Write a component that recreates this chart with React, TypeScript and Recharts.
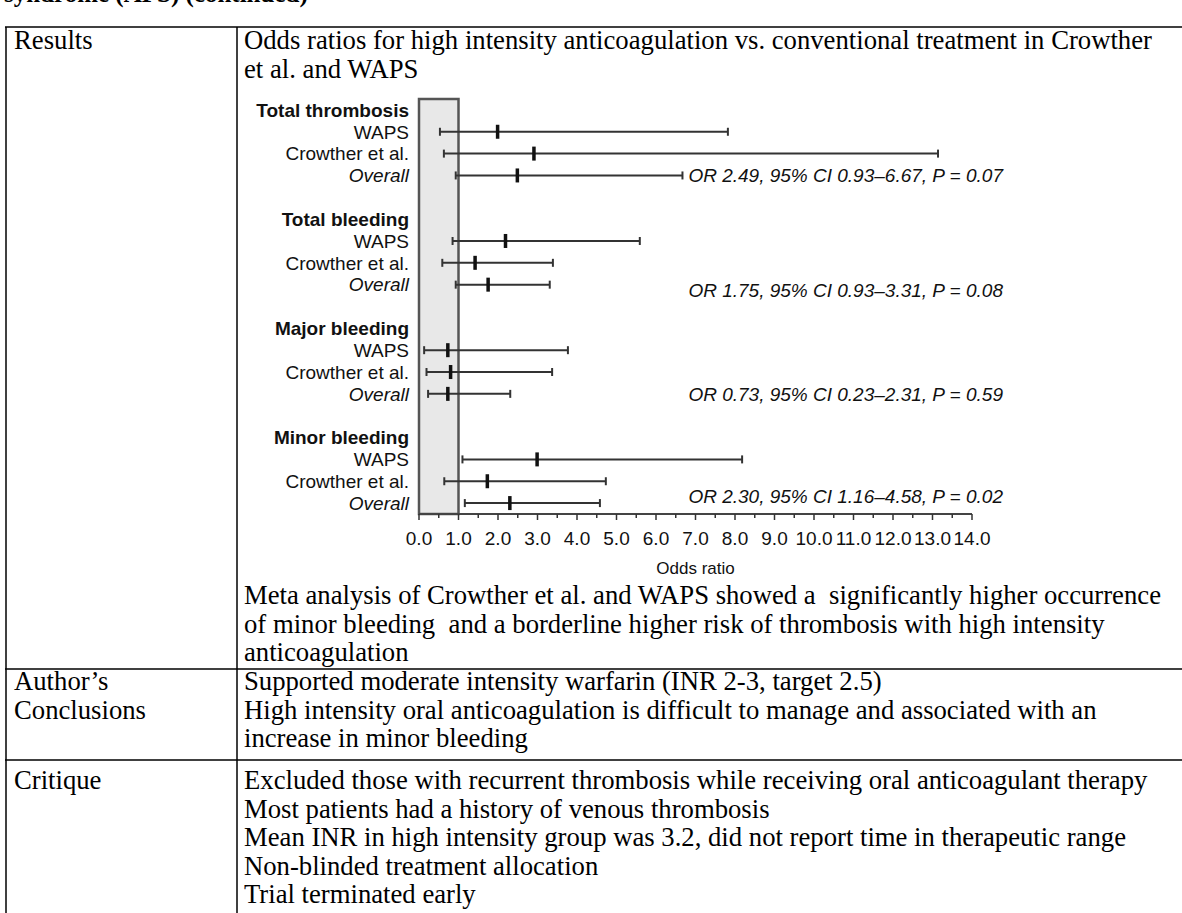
import React from 'react';
import { ScatterChart, Scatter, XAxis, YAxis, ErrorBar, ReferenceArea } from 'recharts';

// ---------- forest plot data ----------
const groupNames = ['Total thrombosis', 'Total bleeding', 'Major bleeding', 'Minor bleeding'];
const studyNames = ['WAPS', 'Crowther et al.', 'Overall'];

// [WAPS, Crowther et al., Overall]
const thrombosisOR = [1.99, 2.91, 2.49];
const thrombosisLow = [0.53, 0.63, 0.93];
const thrombosisHigh = [7.82, 13.14, 6.67];

const totalBleedingOR = [2.19, 1.42, 1.75];
const totalBleedingLow = [0.85, 0.59, 0.93];
const totalBleedingHigh = [5.59, 3.39, 3.31];

const majorBleedingOR = [0.73, 0.8, 0.73];
const majorBleedingLow = [0.13, 0.19, 0.23];
const majorBleedingHigh = [3.77, 3.37, 2.31];

const minorBleedingOR = [2.99, 1.73, 2.3];
const minorBleedingLow = [1.1, 0.64, 1.16];
const minorBleedingHigh = [8.18, 4.73, 4.58];

const overallAnnotations = [
  'OR 2.49, 95% CI 0.93–6.67, P = 0.07',
  'OR 1.75, 95% CI 0.93–3.31, P = 0.08',
  'OR 0.73, 95% CI 0.23–2.31, P = 0.59',
  'OR 2.30, 95% CI 1.16–4.58, P = 0.02',
];
const annotationRows = [3, 8.23, 13, 17.68];

const xTickValues = [
  0, 0.5, 1, 1.5, 2, 2.5, 3, 3.5, 4, 4.5, 5, 5.5, 6, 6.5, 7, 7.5, 8, 8.5, 9, 9.5, 10,
  10.5, 11, 11.5, 12, 12.5, 13, 13.5, 14,
];
const xAxisTitle = 'Odds ratio';

// ---------- table text ----------
const headingText = 'syndrome (APS) (continued)';
const resultsIntro = [
  'Odds ratios for high intensity anticoagulation vs. conventional treatment in Crowther',
  'et al. and WAPS',
];
const resultsSummary = [
  'Meta analysis of Crowther et al. and WAPS showed a  significantly higher occurrence',
  'of minor bleeding  and a borderline higher risk of thrombosis with high intensity',
  'anticoagulation',
];
const conclusionLabel = ['Author’s', 'Conclusions'];
const conclusionLines = [
  'Supported moderate intensity warfarin (INR 2-3, target 2.5)',
  'High intensity oral anticoagulation is difficult to manage and associated with an',
  'increase in minor bleeding',
];
const critiqueLines = [
  'Excluded those with recurrent thrombosis while receiving oral anticoagulant therapy',
  'Most patients had a history of venous thrombosis',
  'Mean INR in high intensity group was 3.2, did not report time in therapeutic range',
  'Non-blinded treatment allocation',
  'Trial terminated early',
];

// ---------- derived structures ----------
const groupOR = [thrombosisOR, totalBleedingOR, majorBleedingOR, minorBleedingOR];
const groupLow = [thrombosisLow, totalBleedingLow, majorBleedingLow, minorBleedingLow];
const groupHigh = [thrombosisHigh, totalBleedingHigh, majorBleedingHigh, minorBleedingHigh];

type RowInfo = { label: string; kind: 'header' | 'study' | 'overall' | 'blank' };
const rows: RowInfo[] = [];
const points: { x: number; y: number; err: [number, number] }[] = [];
groupNames.forEach((g, gi) => {
  rows.push({ label: g, kind: 'header' });
  studyNames.forEach((s, si) => {
    const y = rows.length;
    rows.push({ label: s, kind: s === 'Overall' ? 'overall' : 'study' });
    const or = groupOR[gi][si];
    points.push({ x: or, y, err: [or - groupLow[gi][si], groupHigh[gi][si] - or] });
  });
  if (gi < groupNames.length - 1) rows.push({ label: '', kind: 'blank' });
});
const rowTicks = rows.map((_, i) => i);
const annotationPoints = overallAnnotations.map((text, i) => ({ x: 6.82, y: annotationRows[i], text }));

const SANS = "'Liberation Sans', Arial, Helvetica, sans-serif";
const SERIF = "'Liberation Serif', 'Times New Roman', serif";

const YTick = (props: any) => {
  const { x, y, payload } = props;
  const r = rows[payload.value];
  if (!r || !r.label) return null;
  return (
    <text
      x={x - 10}
      y={y}
      dy="0.36em"
      textAnchor="end"
      fontFamily={SANS}
      fontSize={19}
      fontWeight={r.kind === 'header' ? 'bold' : 'normal'}
      fontStyle={r.kind === 'overall' ? 'italic' : 'normal'}
      fill="#111"
    >
      {r.label}
    </text>
  );
};

const XTick = (props: any) => {
  const { x, y, payload } = props;
  const v = payload.value as number;
  const major = Number.isInteger(v);
  return (
    <g>
      <line x1={x} x2={x} y1={y} y2={y + (major ? 6 : 4)} stroke="#333" strokeWidth={1.5} />
      {major && (
        <text x={x} y={y + 31} textAnchor="middle" fontFamily={SANS} fontSize={19} fill="#111">
          {v.toFixed(1)}
        </text>
      )}
    </g>
  );
};

const Marker = (props: any) => {
  const { cx, cy } = props;
  return <rect x={cx - 1.75} y={cy - 7} width={3.5} height={14} fill="#111" />;
};

const Annotation = (props: any) => {
  const { cx, cy, payload } = props;
  return (
    <text x={cx} y={cy} dy="0.36em" fontFamily={SANS} fontSize={19} fontStyle="italic" fill="#111">
      {payload.text}
    </text>
  );
};

const ForestPlot = () => (
  <ScatterChart width={860} height={500} margin={{ top: 9, right: 128, bottom: 10, left: 0 }} style={{ overflow: 'visible' }}>
    <XAxis
      type="number"
      dataKey="x"
      domain={[0, 14]}
      ticks={xTickValues}
      interval={0}
      tickSize={0}
      tickMargin={0}
      tick={<XTick />}
      axisLine={{ stroke: '#444', strokeWidth: 2 }}
      height={66}
      label={{ value: xAxisTitle, position: 'insideBottom', offset: 6, fontSize: 17, fontFamily: SANS, fill: '#111' }}
    />
    <YAxis
      type="number"
      dataKey="y"
      domain={[-0.5, 18.5]}
      reversed
      ticks={rowTicks}
      interval={0}
      tickSize={0}
      tickMargin={0}
      tick={<YTick />}
      axisLine={false}
      tickLine={false}
      width={179}
    />
    <ReferenceArea x1={0} x2={1} y1={-0.5} y2={18.5} fill="#e8e8e8" fillOpacity={1} stroke="#555" strokeWidth={2.5} ifOverflow="visible" />
    <Scatter data={points} isAnimationActive={false} shape={<Marker />}>
      <ErrorBar dataKey="err" direction="x" width={4} stroke="#333" strokeWidth={2} />
    </Scatter>
    <Scatter data={annotationPoints} isAnimationActive={false} shape={<Annotation />} />
  </ScatterChart>
);

export default function App() {
  const lineH = 28.5;
  const colTextX = 244;
  const labelX = 14;
  const textStyle: React.CSSProperties = { whiteSpace: 'pre' };
  const serifProps = { fontFamily: SERIF, fontSize: 26.7, fill: '#000', style: textStyle };
  const b = (center: number) => center + 9;
  const row1Top = 27;
  const div1 = 669;
  const div2 = 760;
  return (
    <div style={{ position: 'absolute', left: 0, top: 0, width: 1182, height: 913, overflow: 'hidden', background: '#fff' }}>
      <svg width={1182} height={913} style={{ position: 'absolute', left: 0, top: 0 }}>
        <text x={4} y={2} {...serifProps} fontSize={25} fontWeight="bold">{headingText}</text>
        <line x1={5} x2={1182} y1={row1Top} y2={row1Top} stroke="#000" strokeWidth={1.5} />
        <line x1={5} x2={1182} y1={div1} y2={div1} stroke="#000" strokeWidth={1.5} />
        <line x1={5} x2={1182} y1={div2} y2={div2} stroke="#000" strokeWidth={1.5} />
        <line x1={6} x2={6} y1={row1Top} y2={913} stroke="#000" strokeWidth={1.5} />
        <line x1={237} x2={237} y1={row1Top} y2={913} stroke="#000" strokeWidth={1.5} />

        <text x={labelX} y={b(40)} {...serifProps}>Results</text>
        {resultsIntro.map((t, i) => (
          <text key={'ri' + i} x={colTextX} y={b(40 + i * lineH)} {...serifProps}>{t}</text>
        ))}
        {resultsSummary.map((t, i) => (
          <text key={'rs' + i} x={colTextX} y={b(595 + i * lineH)} {...serifProps}>{t}</text>
        ))}
        {conclusionLabel.map((t, i) => (
          <text key={'cl' + i} x={labelX} y={b(681 + i * lineH)} {...serifProps}>{t}</text>
        ))}
        {conclusionLines.map((t, i) => (
          <text key={'cn' + i} x={colTextX} y={b(681 + i * lineH)} {...serifProps}>{t}</text>
        ))}
        <text x={labelX} y={b(780)} {...serifProps}>Critique</text>
        {critiqueLines.map((t, i) => (
          <text key={'cr' + i} x={colTextX} y={b(780 + i * lineH)} {...serifProps}>{t}</text>
        ))}
      </svg>
      <div style={{ position: 'absolute', left: 240, top: 90 }}>
        <ForestPlot />
      </div>
    </div>
  );
}
